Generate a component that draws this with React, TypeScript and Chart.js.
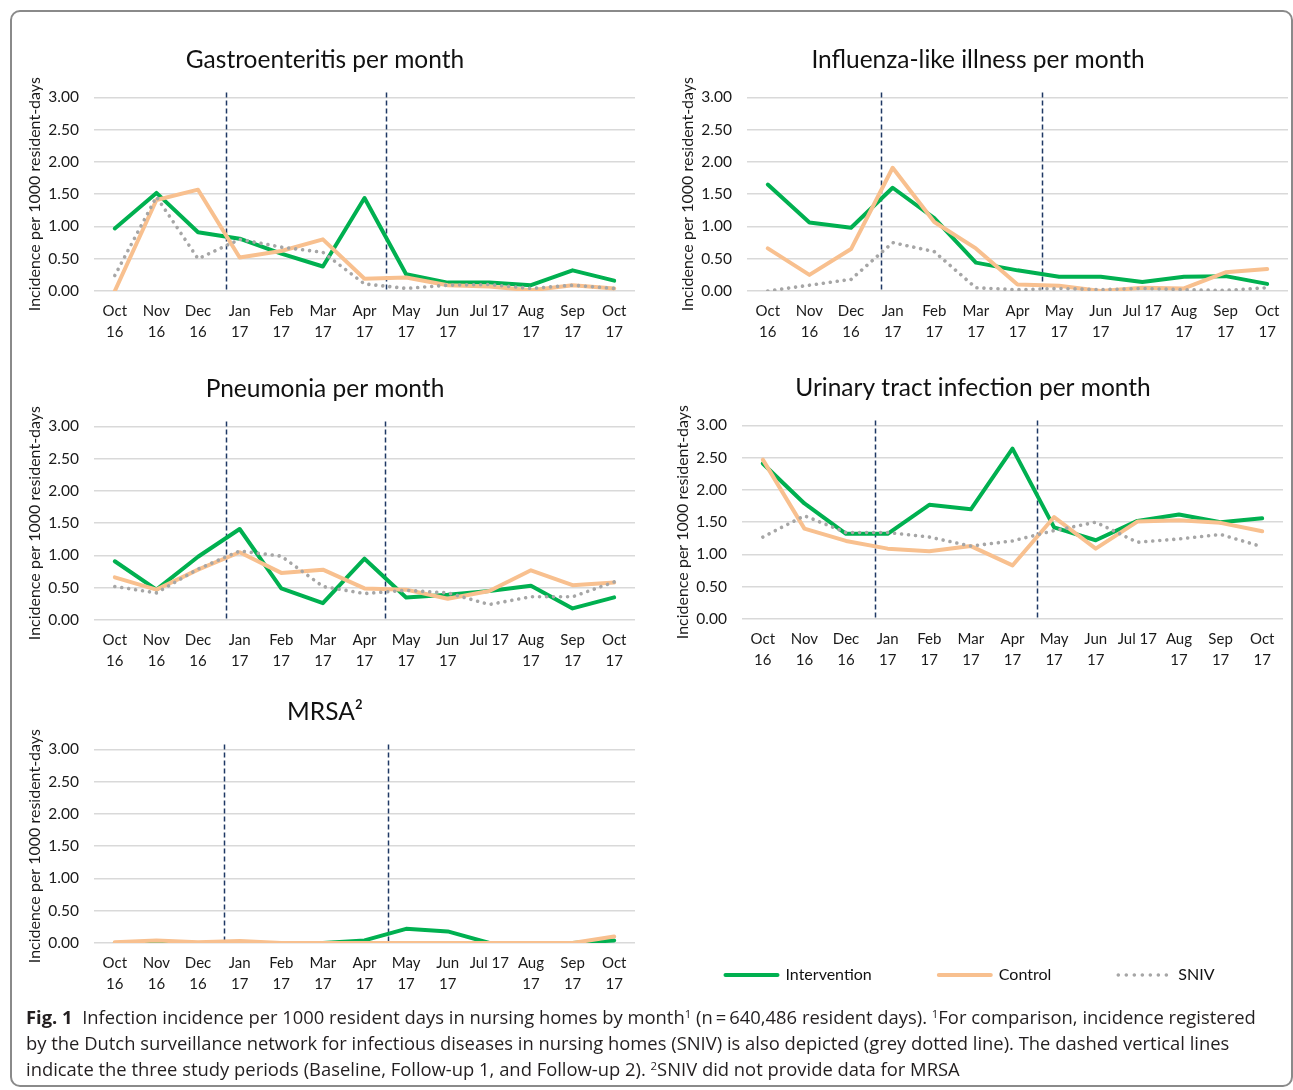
import React, { useEffect, useRef } from "react";
import { Chart, registerables } from "chart.js";
Chart.register(...registerables);

const months: string[][] = [
  ["Oct", "16"], ["Nov", "16"], ["Dec", "16"], ["Jan", "17"], ["Feb", "17"], ["Mar", "17"],
  ["Apr", "17"], ["May", "17"], ["Jun", "17"], ["Jul 17"], ["Aug", "17"], ["Sep", "17"], ["Oct", "17"],
];
const yTickValues = [0, 0.5, 1, 1.5, 2, 2.5, 3];
const seriesNames = ["Intervention", "Control", "SNIV"];

const gastroIntervention = [0.97, 1.52, 0.91, 0.81, 0.58, 0.38, 1.44, 0.26, 0.13, 0.13, 0.09, 0.32, 0.16];
const gastroControl = [0.0, 1.41, 1.57, 0.52, 0.62, 0.8, 0.19, 0.21, 0.09, 0.07, 0.01, 0.09, 0.04];
const gastroSniv = [0.24, 1.46, 0.5, 0.8, 0.68, 0.6, 0.11, 0.04, 0.09, 0.1, 0.04, 0.09, 0.04];

const fluIntervention = [1.65, 1.06, 0.98, 1.6, 1.13, 0.44, 0.32, 0.22, 0.22, 0.14, 0.22, 0.23, 0.11];
const fluControl = [0.66, 0.25, 0.65, 1.91, 1.07, 0.66, 0.1, 0.08, 0.0, 0.05, 0.04, 0.29, 0.34];
const fluSniv = [0.0, 0.09, 0.18, 0.75, 0.61, 0.05, 0.02, 0.04, 0.02, 0.04, 0.02, 0.01, 0.05];

const pneuIntervention = [0.91, 0.47, 0.98, 1.41, 0.49, 0.26, 0.95, 0.35, 0.39, 0.45, 0.53, 0.18, 0.35];
const pneuControl = [0.66, 0.47, 0.78, 1.05, 0.73, 0.78, 0.49, 0.47, 0.33, 0.45, 0.77, 0.54, 0.58];
const pneuSniv = [0.52, 0.42, 0.79, 1.07, 0.99, 0.52, 0.41, 0.46, 0.42, 0.24, 0.36, 0.36, 0.59];

const utiIntervention = [2.41, 1.79, 1.32, 1.32, 1.77, 1.7, 2.64, 1.42, 1.22, 1.52, 1.62, 1.5, 1.56];
const utiControl = [2.47, 1.4, 1.21, 1.09, 1.05, 1.13, 0.83, 1.58, 1.09, 1.51, 1.53, 1.49, 1.36];
const utiSniv = [1.27, 1.6, 1.34, 1.34, 1.27, 1.13, 1.21, 1.37, 1.5, 1.19, 1.24, 1.31, 1.12];

const mrsaIntervention = [0.0, 0.0, 0.0, 0.0, 0.0, 0.0, 0.04, 0.22, 0.18, 0.0, 0.0, 0.0, 0.04];
const mrsaControl = [0.01, 0.04, 0.01, 0.03, 0.0, 0.0, 0.0, 0.0, 0.0, 0.0, 0.0, 0.0, 0.1];

// study period boundaries, as fractional category positions
const gastroPeriods = [2.67, 6.52];
const fluPeriods = [2.72, 6.59];
const pneuPeriods = [2.67, 6.49];
const utiPeriods = [2.69, 6.59];
const mrsaPeriods = [2.62, 6.57];

const GREEN = "#00b050";
const ORANGE = "#f8c08f";
const GREY = "#a6a6a6";
const FONT = "Lato, 'Open Sans', sans-serif";
const TEXT = "#1a1a1a";

const CW = 626;
const CH = 305;

const periodLines = {
  id: "periodLines",
  beforeDatasetsDraw(chart: any, _args: any, opts: any) {
    const { ctx, chartArea, scales } = chart;
    ctx.save();
    ctx.strokeStyle = "#1f3864";
    ctx.lineWidth = 1.5;
    ctx.setLineDash([5, 3]);
    for (const p of opts.positions || []) {
      const x = Math.round(scales.x.getPixelForValue(p)) + 0.5;
      ctx.beginPath();
      ctx.moveTo(x, chartArea.top - 5);
      ctx.lineTo(x, chartArea.bottom);
      ctx.stroke();
    }
    ctx.restore();
  },
};

function makeDataset(label: string, data: number[]) {
  if (label === "Intervention")
    return { label, data, borderColor: GREEN, borderWidth: 4, pointRadius: 0, order: 3, tension: 0, borderCapStyle: "round", borderJoinStyle: "round" };
  if (label === "Control")
    return { label, data, borderColor: ORANGE, borderWidth: 4, pointRadius: 0, order: 2, tension: 0, borderCapStyle: "round", borderJoinStyle: "round" };
  return { label, data, borderColor: GREY, borderWidth: 3.6, borderDash: [0.01, 7], borderCapStyle: "round", pointRadius: 0, order: 1, tension: 0 };
}

function Panel(props: { title: string; series: number[][]; periods: number[]; left: number; top: number }) {
  const ref = useRef<HTMLCanvasElement>(null);
  useEffect(() => {
    const datasets = props.series.map((d, i) => makeDataset(seriesNames[i], d));
    const chart = new Chart(ref.current as HTMLCanvasElement, {
      type: "line",
      data: { labels: months, datasets: datasets as any },
      plugins: [periodLines],
      options: {
        animation: false,
        responsive: false,
        layout: { padding: { left: 0, right: 6, top: 0, bottom: 0 } },
        plugins: {
          legend: { display: false },
          tooltip: { enabled: false },
          title: {
            display: true,
            text: props.title,
            color: "#111",
            font: { family: FONT, size: 24.5, weight: "normal", lineHeight: 1.2 },
            padding: { top: 5, bottom: 23 },
          },
          periodLines: { positions: props.periods },
        } as any,
        scales: {
          x: {
            type: "category",
            offset: true,
            grid: { display: false, drawTicks: false },
            border: { display: false },
            ticks: {
              autoSkip: false,
              maxRotation: 0,
              minRotation: 0,
              padding: 10,
              color: TEXT,
              font: { family: FONT, size: 15, lineHeight: 1.4 },
            },
            afterFit: (s: any) => {
              s.height = 54;
            },
          },
          y: {
            min: 0,
            max: 3,
            afterBuildTicks: (s: any) => {
              s.ticks = yTickValues.map((v) => ({ value: v }));
            },
            grid: { color: "#d9d9d9", lineWidth: 1.5, drawTicks: false },
            border: { display: false },
            ticks: {
              padding: 15,
              color: TEXT,
              font: { family: FONT, size: 15.5 },
              callback: (v: any) => Number(v).toFixed(2),
            },
            title: {
              display: true,
              text: "Incidence per 1000 resident-days",
              color: TEXT,
              font: { family: FONT, size: 16, lineHeight: 1.2 },
              padding: { top: 10, bottom: 0 },
            },
            afterFit: (s: any) => {
              s.width = 79;
            },
          },
        },
      },
    });
    return () => chart.destroy();
  }, []);
  return (
    <canvas
      ref={ref}
      width={CW}
      height={CH}
      style={{ position: "absolute", left: props.left, top: props.top, width: CW, height: CH }}
    />
  );
}

function LegendChart() {
  const ref = useRef<HTMLCanvasElement>(null);
  useEffect(() => {
    const chart = new Chart(ref.current as HTMLCanvasElement, {
      type: "line",
      data: {
        labels: [],
        datasets: seriesNames.map((n) => makeDataset(n, [])) as any,
      },
      options: {
        animation: false,
        responsive: false,
        layout: { padding: 0 },
        scales: { x: { display: false }, y: { display: false } },
        plugins: {
          tooltip: { enabled: false },
          legend: {
            display: true,
            position: "top",
            labels: {
              usePointStyle: true,
              pointStyleWidth: 52,
              boxHeight: 4,
              padding: 67,
              color: "#111",
              font: { family: FONT, size: 16 },
              generateLabels: (c: any) =>
                c.data.datasets.map((ds: any, i: number) => ({
                  text: ds.label,
                  fillStyle: ds.borderColor,
                  strokeStyle: ds.borderColor,
                  lineWidth: ds.label === "SNIV" ? 3.6 : 4,
                  lineDash: ds.label === "SNIV" ? [0.01, 8] : [],
                  lineCap: "round",
                  pointStyle: "line",
                  rotation: 0,
                  hidden: false,
                  datasetIndex: i,
                  fontColor: "#111",
                })),
            },
          },
        },
      },
    });
    return () => chart.destroy();
  }, []);
  return (
    <canvas ref={ref} width={640} height={180} style={{ position: "absolute", left: 650, top: 900, width: 640, height: 180 }} />
  );
}

export default function App() {
  const sup: React.CSSProperties = { fontSize: "0.62em", verticalAlign: "0.55em", lineHeight: 0 };
  return (
    <div style={{ position: "absolute", left: 0, top: 0, width: 1293, height: 1090, overflow: "hidden", background: "#fff" }}>
      <div
        style={{
          position: "absolute",
          left: 10,
          top: 10,
          width: 1283,
          height: 1077,
          boxSizing: "border-box",
          border: "2px solid #8a8a8a",
          borderRadius: 10,
        }}
      />
      <Panel title="Gastroenteritis per month" series={[gastroIntervention, gastroControl, gastroSniv]} periods={gastroPeriods} left={15} top={40} />
      <Panel title="Influenza-like illness per month" series={[fluIntervention, fluControl, fluSniv]} periods={fluPeriods} left={668} top={40} />
      <Panel title="Pneumonia per month" series={[pneuIntervention, pneuControl, pneuSniv]} periods={pneuPeriods} left={15} top={369} />
      <Panel title="Urinary tract infection per month" series={[utiIntervention, utiControl, utiSniv]} periods={utiPeriods} left={663} top={368} />
      <Panel title="MRSA²" series={[mrsaIntervention, mrsaControl]} periods={mrsaPeriods} left={15} top={692} />
      <LegendChart />
      <div
        style={{
          position: "absolute",
          left: 26,
          top: 1004,
          whiteSpace: "nowrap",
          fontFamily: "'Open Sans', sans-serif",
          fontSize: 18.4,
          lineHeight: "26px",
          color: "#231f20",
        }}
      >
        <b>Fig. 1</b>&nbsp;&nbsp;Infection incidence per 1000 resident days in nursing homes by month<span style={sup}>1</span> (n&thinsp;=&thinsp;640,486 resident days).{" "}
        <span style={sup}>1</span>For comparison, incidence registered
        <br />
        by the Dutch surveillance network for infectious diseases in nursing homes (SNIV) is also depicted (grey dotted line). The dashed vertical lines
        <br />
        indicate the three study periods (Baseline, Follow-up 1, and Follow-up 2). <span style={sup}>2</span>SNIV did not provide data for MRSA
      </div>
    </div>
  );
}
